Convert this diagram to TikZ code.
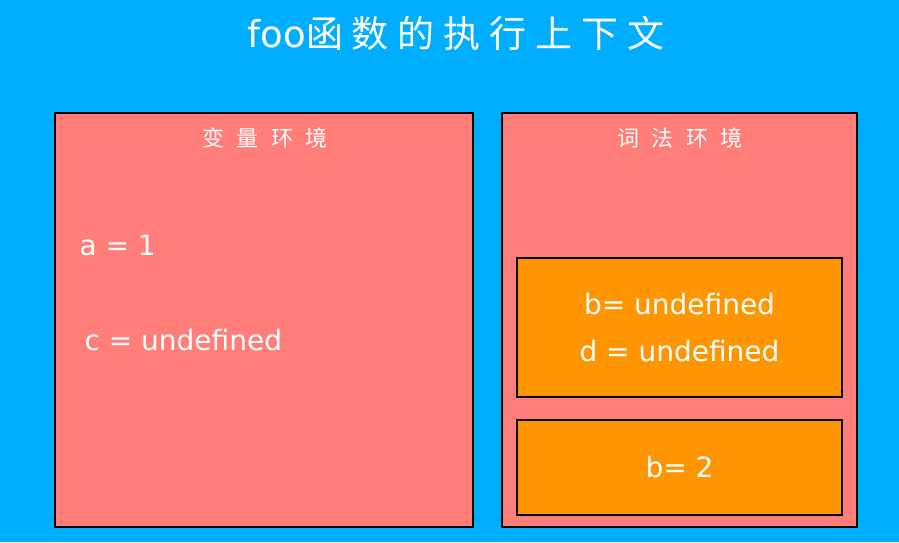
\documentclass[tikz,border=0pt]{standalone}
\usepackage{fontspec}
\setmainfont{DejaVu Sans}
\newfontfamily\cjktitle[LetterSpace=24]{Noto Sans CJK SC}
\newfontfamily\cjklabel[LetterSpace=55]{Noto Sans CJK SC}
\usetikzlibrary{positioning}

\definecolor{skyblue}{RGB}{0,174,255}
\definecolor{envred}{RGB}{255,126,121}
\definecolor{recorange}{RGB}{255,149,0}

\begin{document}
\begin{tikzpicture}[x=1pt, y=-1pt,
  envbox/.style={draw=black, line width=2pt, fill=envred, inner sep=0pt},
  recbox/.style={draw=black, line width=2pt, fill=recorange, inner sep=0pt,
    minimum width=325pt, text=white, align=center, font=\fontsize{28}{47}\selectfont},
  envlabel/.style={text=white, font=\cjklabel\fontsize{22}{24}\selectfont},
  varlabel/.style={text=white, anchor=west, font=\fontsize{28}{30}\selectfont}]

\useasboundingbox[fill=skyblue] (0,0) rectangle (899,542);

% Title
\node[text=white, font=\fontsize{37}{40}\selectfont] (title) at (456,33)
  {foo{\cjktitle 函数的执行上下文}};

% Variable environment
\node[envbox, minimum width=418pt, minimum height=414pt] (varenv) at (264,320) {};
\node[envlabel] (varname) at (265,138) {变量环境};
\node[varlabel] (vara) at (76,245) {a = 1};
\node[varlabel] (varc) at (81,340) {c = undefined};

% Lexical environment
\node[envbox, minimum width=355pt, minimum height=414pt] (lexenv) at (679.5,320) {};
\node[envlabel] (lexname) at (680,138) {词法环境};
\node[recbox, minimum height=139pt] (outer) at (679.5,327.5) {b= undefined\\d = undefined};
\node[recbox, minimum height=95pt] (inner) at (679.5,467.5) {b= 2};

\end{tikzpicture}
\end{document}
